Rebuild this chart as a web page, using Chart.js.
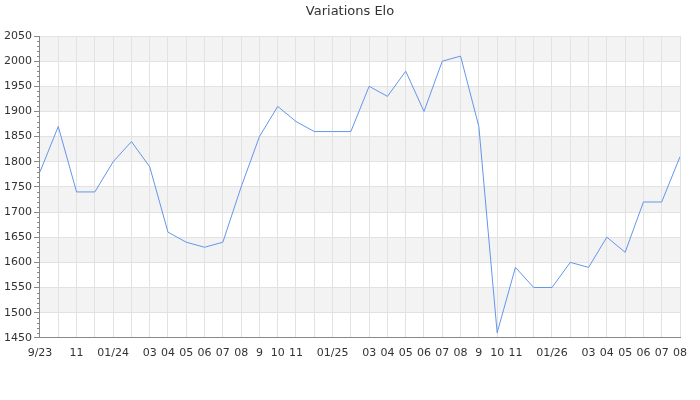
<!DOCTYPE html>
<html>
<head>
<meta charset="utf-8">
<title>Variations Elo</title>
<script src="https://cdn.jsdelivr.net/npm/chart.js@4/dist/chart.umd.min.js"></script>
<style>
  html, body { margin: 0; padding: 0; background: #fff; }
  #wrap { width: 700px; height: 400px; }
</style>
</head>
<body>
<div id="wrap"><canvas id="elo" width="700" height="400"></canvas></div>
<script>
// months shown on the axis ('' where the label is skipped)
const months = [
  "9/23", "", "11", "", "01/24", "", "03", "04", "05", "06", "07", "08",
  "9", "10", "11", "", "01/25", "", "03", "04", "05", "06", "07", "08",
  "9", "10", "11", "", "01/26", "", "03", "04", "05", "06", "07", "08"
];
const elo = [
  1780, 1870, 1740, 1740, 1800, 1840, 1790, 1660, 1640, 1630, 1640, 1750,
  1850, 1910, 1880, 1860, 1860, 1860, 1950, 1930, 1980, 1900, 2000, 2010,
  1870, 1460, 1590, 1550, 1550, 1600, 1590, 1650, 1620, 1720, 1720, 1810
];
const yMin = 1450;
const yMax = 2050;
const yStep = 50;
const minorStep = 10;
const titleText = 'Variations Elo';

Chart.defaults.font.family = "'DejaVu Sans', sans-serif";
Chart.defaults.font.size = 11;
Chart.defaults.color = '#444';

// grey bands between every other pair of y gridlines
const bands = {
  id: 'bands',
  beforeDraw(chart) {
    const { ctx, chartArea: a, scales: { y } } = chart;
    ctx.save();
    ctx.fillStyle = '#f3f3f3';
    for (let v = yMin + yStep; v < yMax; v += 2 * yStep) {
      const top = y.getPixelForValue(v + yStep);
      const bot = y.getPixelForValue(v);
      ctx.fillRect(a.left, top, a.right - a.left, bot - top);
    }
    ctx.restore();
  }
};

// small minor ticks on the y axis + title centred on the whole canvas
const extras = {
  id: 'extras',
  afterDraw(chart) {
    const { ctx, chartArea: a, scales: { y } } = chart;
    ctx.save();
    ctx.strokeStyle = '#888';
    ctx.lineWidth = 1;
    ctx.beginPath();
    for (let v = yMin; v <= yMax; v += minorStep) {
      if (v % yStep === 0) continue;
      const py = Math.round(y.getPixelForValue(v)) + 0.5;
      ctx.moveTo(a.left - 3, py);
      ctx.lineTo(a.left, py);
    }
    ctx.stroke();

    ctx.fillStyle = '#333';
    ctx.font = "13px 'DejaVu Sans', sans-serif";
    ctx.textAlign = 'center';
    ctx.textBaseline = 'middle';
    ctx.fillText(titleText, chart.width / 2, 12);
    ctx.restore();
  }
};

new Chart(document.getElementById('elo'), {
  type: 'line',
  data: {
    labels: months,
    datasets: [{
      label: 'Elo',
      data: elo,
      borderColor: '#6495ed',
      borderWidth: 1,
      pointRadius: 0,
      tension: 0,
      fill: false
    }]
  },
  options: {
    responsive: false,
    animation: false,
    layout: { padding: { left: 2, right: 20, top: 36, bottom: 31 } },
    plugins: {
      legend: { display: false },
      tooltip: { enabled: false },
      title: { display: false }
    },
    scales: {
      x: {
        offset: false,
        grid: { color: '#e2e2e2', drawTicks: false },
        border: { color: '#888' },
        ticks: { autoSkip: false, maxRotation: 0, padding: 9, color: '#333' }
      },
      y: {
        min: yMin,
        max: yMax,
        grid: { color: '#e2e2e2', tickColor: '#888', tickLength: 6 },
        border: { color: '#888' },
        ticks: { stepSize: yStep, padding: 2, color: '#333', callback: v => String(v) }
      }
    }
  },
  plugins: [bands, extras]
});
</script>
</body>
</html>
